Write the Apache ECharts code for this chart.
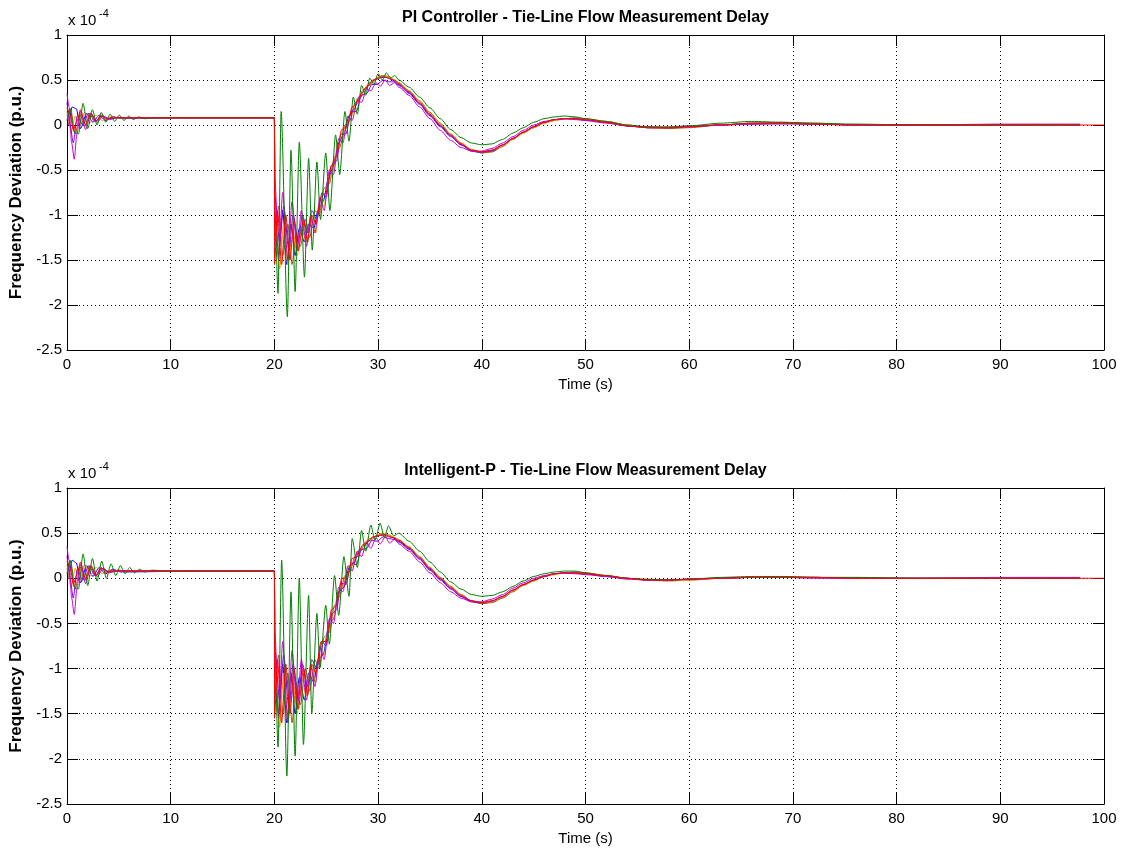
<!DOCTYPE html>
<html>
<head>
<meta charset="utf-8">
<title>Tie-Line Flow Measurement Delay</title>
<script src="https://cdn.jsdelivr.net/npm/echarts@6/dist/echarts.min.js"></script>
<style>
  html, body { margin: 0; padding: 0; background: #ffffff; }
  #chart { width: 1121px; height: 850px; }
</style>
</head>
<body>
<div id="chart"></div>
<script>
// Frequency deviation (units of 1e-4 p.u.) versus time (s), [t, value] pairs.
// ---- PI controller ----
const piBlue = [[0,0.0],[0.1,0.0],[0.5,0.2],[0.9,0.18],[1.3,-0.04],[1.9,0.13],[2.5,0.03],[3.1,0.11],[3.7,0.05],[4.4,0.09],[5.2,0.075],[13,0.08],[20,0.08],
  [20.05,-1.2],[20.4,-1.45],[20.8,-0.95],[21.2,-1.55],[21.6,-1.1],[22,-1.45],[22.4,-1.15],[22.9,-1.3],[23.3,-1.1],[23.8,-1.15],[24.2,-0.95],[24.7,-0.85],[25.2,-0.6],[25.7,-0.45],[26.2,-0.2],[26.7,-0.1],[27.2,0.1],[27.7,0.18],[28.2,0.32],[28.7,0.38],[29.2,0.47],[29.7,0.5],[30.3,0.53],[30.8,0.53],[31.4,0.5],
  [32,0.45],[33,0.36],[34,0.24],[35,0.11],[36,-0.01],[37,-0.12],[38,-0.22],[39,-0.29],[40,-0.31],[41,-0.29],[42,-0.23],[43,-0.15],[44,-0.08],[45,-0.02],[46,0.03],[47,0.06],[48,0.07],[49,0.07],[50,0.06],[52,0.03],[54,-0.01],[56,-0.03],[58,-0.03],[60,-0.02],[63,0.0],[66,0.02],[69,0.02],[72,0.01],[76,0.0],[82,0.0],[90,0.0],[97.7,0.0]];
const piBrown = [[0,0.1],[0.35,0.18],[0.8,-0.1],[1.25,0.12],[1.7,-0.02],[2.2,0.13],[2.8,0.04],[3.4,0.1],[4.1,0.07],[5,0.08],[20,0.08],
  [20.05,-1.3],[20.4,-0.9],[20.8,-1.45],[21.3,-1.1],[21.7,-1.55],[22.1,-1.2],[22.5,-1.35],[23,-1.05],[23.4,-1.25],[23.9,-0.95],[24.3,-1.0],[24.8,-0.7],[25.3,-0.65],[25.8,-0.35],[26.3,-0.25],[26.8,0.0],[27.3,0.05],[27.8,0.25],[28.3,0.3],[28.8,0.42],[29.3,0.45],[29.8,0.52],[30.4,0.55],[31,0.54],[31.6,0.5],
  [32,0.47],[33,0.38],[34,0.27],[35,0.14],[36,0.02],[37,-0.1],[38,-0.2],[39,-0.28],[40,-0.31],[41,-0.3],[42,-0.24],[43,-0.16],[44,-0.09],[45,-0.03],[46,0.02],[47,0.05],[48,0.07],[49,0.08],[50,0.07],[52,0.04],[54,0.0],[56,-0.03],[58,-0.04],[60,-0.03],[63,0.0],[66,0.02],[69,0.03],[72,0.02],[76,0.0],[82,0.0],[90,0.0],[97.7,0.0]];
const piOrange = [[0,0.15],[0.4,-0.08],[0.8,0.1],[1.2,-0.02],[1.7,0.14],[2.2,0.02],[2.8,0.11],[3.4,0.05],[4.1,0.09],[5,0.08],[20,0.08],
  [20.05,-1.0],[20.5,-1.6],[20.9,-1.1],[21.3,-1.55],[21.8,-1.2],[22.2,-1.45],[22.6,-1.15],[23.1,-1.3],[23.5,-1.05],[24,-1.2],[24.3,-0.9],[24.8,-0.9],[25.2,-0.6],[25.7,-0.5],[26.1,-0.2],[26.6,-0.15],[27.1,0.1],[27.6,0.13],[28,0.3],[28.5,0.35],[29,0.45],[29.5,0.47],[30,0.53],[30.6,0.55],[31.2,0.52],
  [32,0.47],[33,0.38],[34,0.26],[35,0.13],[36,0.01],[37,-0.1],[38,-0.2],[39,-0.27],[40,-0.3],[41,-0.28],[42,-0.23],[43,-0.16],[44,-0.09],[45,-0.03],[46,0.02],[47,0.05],[48,0.07],[49,0.07],[50,0.06],[52,0.04],[54,0.0],[56,-0.03],[58,-0.03],[60,-0.02],[63,0.0],[66,0.01],[69,0.02],[72,0.01],[76,0.0],[82,0.0],[90,0.0],[97.7,0.0]];
const piPurple = [[0,0.25],[0.3,0.0],[0.6,-0.2],[1.0,0.1],[1.5,0.0],[2.1,0.13],[2.7,0.04],[3.3,0.1],[4,0.07],[5,0.08],[20,0.08],
  [20.05,-0.8],[20.5,-1.3],[20.9,-0.9],[21.4,-1.4],[21.8,-1.0],[22.3,-1.3],[22.7,-1.0],[23.2,-1.2],[23.6,-0.95],[24.1,-1.05],[24.6,-0.75],[25,-0.8],[25.5,-0.45],[26,-0.4],[26.4,-0.1],[26.9,-0.1],[27.4,0.15],[27.9,0.15],[28.4,0.33],[28.9,0.35],[29.4,0.45],[29.9,0.45],[30.5,0.5],[31,0.48],[31.6,0.48],
  [32,0.44],[33,0.35],[34,0.23],[35,0.1],[36,-0.02],[37,-0.13],[38,-0.22],[39,-0.28],[40,-0.3],[41,-0.28],[42,-0.22],[43,-0.15],[44,-0.08],[45,-0.02],[46,0.03],[47,0.06],[48,0.07],[49,0.07],[50,0.05],[52,0.03],[54,-0.01],[56,-0.02],[58,-0.03],[60,-0.02],[63,0.0],[66,0.01],[69,0.02],[72,0.01],[76,0.0],[82,0.0],[90,0.0],[97.7,0.0]];
const piMagenta = [[0,0.35],[0.2,0.2],[0.45,-0.2],[0.7,-0.38],[0.95,-0.1],[1.3,0.15],[1.8,-0.05],[2.3,0.13],[2.9,0.03],[3.5,0.1],[4.1,0.06],[4.9,0.085],[6,0.08],[20,0.08],
  [20.05,-0.6],[20.4,-1.5],[20.8,-0.75],[21.3,-1.5],[21.7,-0.85],[22.2,-1.4],[22.6,-0.95],[23.1,-1.35],[23.5,-1.0],[23.9,-1.2],[24.4,-0.8],[24.8,-0.95],[25.3,-0.5],[25.7,-0.55],[26.2,-0.15],[26.6,-0.2],[27.1,0.1],[27.5,0.05],[28,0.28],[28.4,0.25],[28.9,0.4],[29.3,0.38],[29.8,0.47],[30.2,0.43],[30.7,0.5],[31.1,0.44],[31.6,0.47],
  [32,0.42],[33,0.33],[34,0.2],[35,0.07],[36,-0.06],[37,-0.17],[38,-0.25],[39,-0.29],[40,-0.29],[41,-0.26],[42,-0.2],[43,-0.13],[44,-0.06],[45,0.0],[46,0.04],[47,0.06],[48,0.07],[49,0.06],[50,0.05],[52,0.02],[54,-0.01],[56,-0.03],[58,-0.03],[60,-0.01],[63,0.0],[66,0.01],[69,0.01],[72,0.01],[76,0.0],[82,0.0],[90,0.01],[97.7,0.01]];
const piGreen = [[0,0.05],[0.3,0.18],[0.7,-0.08],[1.1,-0.1],[1.55,0.24],[2.0,-0.04],[2.45,0.17],[2.9,0.0],[3.3,0.14],[3.75,0.03],[4.15,0.12],[4.6,0.04],[5.05,0.11],[5.5,0.05],[5.95,0.1],[6.4,0.06],[6.9,0.09],[7.5,0.07],[8.5,0.08],[20,0.08],
  [20.03,-0.9],[20.35,-1.87],[20.65,0.15],[21.25,-2.13],[21.6,-0.28],[22.0,-1.85],[22.4,-0.19],[22.9,-1.69],[23.3,-0.37],[23.65,-1.39],[24.1,-0.41],[24.45,-1.05],[24.95,-0.31],[25.35,-0.95],[25.9,-0.11],[26.3,-0.55],[26.8,0.15],[27.2,-0.18],[27.6,0.31],[28.0,0.12],[28.4,0.44],[28.8,0.33],[29.2,0.52],[29.6,0.45],[30.0,0.57],[30.4,0.5],[30.8,0.58],[31.2,0.52],[31.6,0.55],
  [32,0.5],[33,0.42],[34,0.31],[35,0.19],[36,0.07],[37,-0.05],[38,-0.14],[39,-0.2],[40,-0.22],[41,-0.21],[42,-0.16],[43,-0.09],[44,-0.03],[45,0.03],[46,0.07],[47,0.09],[48,0.1],[49,0.09],[50,0.07],[52,0.04],[54,0.0],[56,-0.02],[58,-0.02],[60,-0.01],[63,0.02],[66,0.04],[69,0.03],[72,0.02],[76,0.01],[82,0.0],[90,0.0],[97.7,0.0]];
const piRed = [[0,0.19],[0.3,0.12],[0.6,-0.05],[1.0,0.05],[1.3,0.17],[1.8,0.0],[2.3,0.13],[2.8,0.04],[3.3,0.11],[3.8,0.06],[4.4,0.09],[5,0.08],[20,0.08],
  [20.01,-1.55],[20.3,-0.95],[20.7,-1.55],[21.1,-1.0],[21.5,-1.5],[21.9,-1.05],[22.3,-1.4],[22.8,-1.05],[23.2,-1.3],[23.6,-1.0],[24.0,-1.1],[24.5,-0.8],[25.0,-0.75],[25.5,-0.45],[26,-0.35],[26.5,-0.05],[27,-0.02],[27.5,0.2],[28,0.24],[28.5,0.38],[29,0.43],[29.5,0.5],[30,0.52],[30.5,0.54],[31,0.52],[31.5,0.5],
  [32,0.46],[33,0.37],[34,0.25],[35,0.12],[36,0.0],[37,-0.11],[38,-0.21],[39,-0.28],[40,-0.3],[41,-0.28],[42,-0.22],[43,-0.15],[44,-0.08],[45,-0.02],[46,0.03],[47,0.06],[48,0.07],[49,0.07],[50,0.06],[52,0.03],[54,-0.01],[56,-0.03],[58,-0.03],[60,-0.02],[63,0.0],[66,0.02],[69,0.02],[72,0.01],[76,0.0],[82,0.0],[90,0.0],[100,0.0]];

// ---- Intelligent-P controller ----
const ipBlue = [[0,0.0],[0.1,0.0],[0.5,0.2],[0.9,0.17],[1.3,-0.05],[1.9,0.14],[2.5,0.02],[3.1,0.12],[3.7,0.05],[4.4,0.1],[5.2,0.07],[13,0.08],[20,0.08],
  [20.05,-1.2],[20.4,-1.5],[20.8,-0.95],[21.2,-1.6],[21.6,-1.05],[22,-1.5],[22.4,-1.1],[22.9,-1.35],[23.3,-1.05],[23.8,-1.15],[24.2,-0.9],[24.7,-0.85],[25.2,-0.55],[25.7,-0.45],[26.2,-0.15],[26.7,-0.1],[27.2,0.12],[27.7,0.18],[28.2,0.32],[28.7,0.36],[29.2,0.44],[29.7,0.46],[30.3,0.48],[30.8,0.48],[31.4,0.45],
  [32,0.41],[33,0.33],[34,0.22],[35,0.1],[36,-0.01],[37,-0.11],[38,-0.2],[39,-0.26],[40,-0.28],[41,-0.26],[42,-0.21],[43,-0.14],[44,-0.07],[45,-0.02],[46,0.02],[47,0.05],[48,0.06],[49,0.06],[50,0.05],[52,0.02],[54,0.0],[56,-0.02],[58,-0.02],[60,-0.01],[63,0.0],[66,0.01],[69,0.01],[72,0.01],[76,0.0],[82,0.0],[90,0.0],[97.7,0.0]];
const ipBrown = [[0,0.1],[0.35,0.19],[0.8,-0.12],[1.25,0.13],[1.7,-0.03],[2.2,0.14],[2.8,0.03],[3.4,0.11],[4.1,0.07],[5,0.08],[20,0.08],
  [20.05,-1.3],[20.4,-0.85],[20.8,-1.5],[21.3,-1.05],[21.7,-1.6],[22.1,-1.15],[22.5,-1.4],[23,-1.0],[23.4,-1.25],[23.9,-0.9],[24.3,-1.0],[24.8,-0.65],[25.3,-0.6],[25.8,-0.3],[26.3,-0.2],[26.8,0.03],[27.3,0.08],[27.8,0.25],[28.3,0.3],[28.8,0.4],[29.3,0.42],[29.8,0.47],[30.4,0.49],[31,0.48],[31.6,0.45],
  [32,0.42],[33,0.34],[34,0.24],[35,0.12],[36,0.01],[37,-0.09],[38,-0.18],[39,-0.25],[40,-0.28],[41,-0.27],[42,-0.22],[43,-0.15],[44,-0.08],[45,-0.03],[46,0.02],[47,0.05],[48,0.06],[49,0.07],[50,0.06],[52,0.03],[54,0.0],[56,-0.02],[58,-0.03],[60,-0.02],[63,0.0],[66,0.01],[69,0.02],[72,0.01],[76,0.0],[82,0.0],[90,0.0],[97.7,0.0]];
const ipOrange = [[0,0.15],[0.4,-0.1],[0.8,0.11],[1.2,-0.03],[1.7,0.15],[2.2,0.02],[2.8,0.12],[3.4,0.05],[4.1,0.09],[5,0.08],[20,0.08],
  [20.05,-1.0],[20.5,-1.65],[20.9,-1.05],[21.3,-1.6],[21.8,-1.15],[22.2,-1.5],[22.6,-1.1],[23.1,-1.3],[23.5,-1.0],[24,-1.15],[24.3,-0.85],[24.8,-0.85],[25.2,-0.55],[25.7,-0.45],[26.1,-0.15],[26.6,-0.1],[27.1,0.12],[27.6,0.14],[28,0.3],[28.5,0.34],[29,0.43],[29.5,0.45],[30,0.49],[30.6,0.5],[31.2,0.47],
  [32,0.43],[33,0.35],[34,0.24],[35,0.12],[36,0.01],[37,-0.09],[38,-0.18],[39,-0.25],[40,-0.27],[41,-0.26],[42,-0.21],[43,-0.14],[44,-0.08],[45,-0.03],[46,0.02],[47,0.04],[48,0.06],[49,0.06],[50,0.05],[52,0.03],[54,0.0],[56,-0.02],[58,-0.02],[60,-0.02],[63,0.0],[66,0.01],[69,0.01],[72,0.01],[76,0.0],[82,0.0],[90,0.0],[97.7,0.0]];
const ipPurple = [[0,0.25],[0.3,0.0],[0.6,-0.22],[1.0,0.1],[1.5,-0.02],[2.1,0.14],[2.7,0.03],[3.3,0.11],[4,0.07],[5,0.08],[20,0.08],
  [20.05,-0.8],[20.5,-1.35],[20.9,-0.85],[21.4,-1.45],[21.8,-0.95],[22.3,-1.35],[22.7,-0.95],[23.2,-1.2],[23.6,-0.9],[24.1,-1.0],[24.6,-0.7],[25,-0.75],[25.5,-0.4],[26,-0.35],[26.4,-0.05],[26.9,-0.07],[27.4,0.17],[27.9,0.15],[28.4,0.32],[28.9,0.33],[29.4,0.42],[29.9,0.41],[30.5,0.46],[31,0.44],[31.6,0.43],
  [32,0.4],[33,0.32],[34,0.21],[35,0.09],[36,-0.02],[37,-0.12],[38,-0.2],[39,-0.25],[40,-0.27],[41,-0.25],[42,-0.2],[43,-0.13],[44,-0.07],[45,-0.02],[46,0.02],[47,0.05],[48,0.06],[49,0.06],[50,0.05],[52,0.02],[54,0.0],[56,-0.02],[58,-0.02],[60,-0.01],[63,0.0],[66,0.01],[69,0.01],[72,0.01],[76,0.0],[82,0.0],[90,0.0],[97.7,0.0]];
const ipMagenta = [[0,0.35],[0.2,0.2],[0.45,-0.22],[0.7,-0.4],[0.95,-0.12],[1.3,0.16],[1.8,-0.06],[2.3,0.14],[2.9,0.02],[3.5,0.11],[4.1,0.06],[4.9,0.09],[6,0.08],[20,0.08],
  [20.05,-0.6],[20.4,-1.55],[20.8,-0.7],[21.3,-1.6],[21.7,-0.8],[22.2,-1.45],[22.6,-0.9],[23.1,-1.35],[23.5,-0.95],[23.9,-1.2],[24.4,-0.75],[24.8,-0.9],[25.3,-0.45],[25.7,-0.5],[26.2,-0.1],[26.6,-0.15],[27.1,0.14],[27.5,0.08],[28,0.3],[28.4,0.24],[28.9,0.4],[29.3,0.33],[29.8,0.45],[30.2,0.38],[30.7,0.46],[31.1,0.39],[31.6,0.43],
  [32,0.38],[33,0.3],[34,0.18],[35,0.06],[36,-0.05],[37,-0.15],[38,-0.22],[39,-0.26],[40,-0.26],[41,-0.23],[42,-0.18],[43,-0.11],[44,-0.05],[45,0.0],[46,0.03],[47,0.05],[48,0.06],[49,0.05],[50,0.04],[52,0.02],[54,-0.01],[56,-0.02],[58,-0.02],[60,-0.01],[63,0.0],[66,0.01],[69,0.01],[72,0.0],[76,0.0],[82,0.0],[90,0.01],[97.7,0.01]];
const ipGreen = [[0,0.05],[0.3,0.2],[0.7,-0.1],[1.1,-0.12],[1.55,0.27],[2.0,-0.08],[2.45,0.22],[2.9,-0.03],[3.35,0.19],[3.8,0.0],[4.25,0.16],[4.7,0.03],[5.15,0.14],[5.6,0.05],[6.05,0.12],[6.5,0.06],[7.0,0.1],[7.5,0.07],[8.2,0.09],[9.5,0.08],[20,0.08],
  [20.03,-0.8],[20.35,-1.87],[20.7,0.2],[21.2,-2.19],[21.6,-0.15],[22.0,-1.97],[22.4,0.0],[22.8,-1.84],[23.3,-0.19],[23.6,-1.5],[24.1,-0.39],[24.4,-0.99],[24.95,-0.3],[25.3,-0.73],[25.8,0.03],[26.2,-0.41],[26.7,0.24],[27.2,-0.2],[27.5,0.44],[28.0,0.12],[28.4,0.53],[28.8,0.3],[29.3,0.59],[29.7,0.42],[30.2,0.61],[30.6,0.45],[31.0,0.58],[31.5,0.47],
  [32,0.5],[33,0.41],[34,0.3],[35,0.18],[36,0.07],[37,-0.04],[38,-0.12],[39,-0.18],[40,-0.2],[41,-0.19],[42,-0.15],[43,-0.09],[44,-0.03],[45,0.02],[46,0.05],[47,0.07],[48,0.08],[49,0.08],[50,0.06],[52,0.03],[54,0.0],[56,-0.01],[58,-0.02],[60,-0.01],[63,0.01],[66,0.02],[69,0.02],[72,0.01],[76,0.01],[82,0.0],[90,0.0],[97.7,0.0]];
const ipRed = [[0,0.19],[0.3,0.12],[0.6,-0.06],[1.0,0.05],[1.3,0.18],[1.8,-0.01],[2.3,0.14],[2.8,0.03],[3.3,0.12],[3.8,0.06],[4.4,0.09],[5,0.08],[20,0.08],
  [20.01,-1.55],[20.3,-0.9],[20.7,-1.6],[21.1,-0.95],[21.5,-1.5],[21.9,-1.0],[22.3,-1.45],[22.8,-1.0],[23.2,-1.3],[23.6,-0.95],[24,-1.05],[24.5,-0.7],[25,-0.7],[25.5,-0.35],[26,-0.3],[26.5,0.0],[27,0.0],[27.5,0.22],[28,0.24],[28.5,0.37],[29,0.4],[29.5,0.46],[30,0.47],[30.5,0.48],[31,0.46],[31.5,0.45],
  [32,0.42],[33,0.34],[34,0.23],[35,0.11],[36,0.0],[37,-0.1],[38,-0.19],[39,-0.25],[40,-0.27],[41,-0.25],[42,-0.2],[43,-0.13],[44,-0.07],[45,-0.02],[46,0.02],[47,0.05],[48,0.06],[49,0.06],[50,0.05],[52,0.03],[54,0.0],[56,-0.02],[58,-0.02],[60,-0.01],[63,0.0],[66,0.01],[69,0.01],[72,0.01],[76,0.0],[82,0.0],[90,0.0],[100,0.0]];

// Axis ticks
const timeTicks = [0, 10, 20, 30, 40, 50, 60, 70, 80, 90, 100];
const devTicks = [-2.5, -2, -1.5, -1, -0.5, 0, 0.5, 1];

const panelTitles = ['PI Controller - Tie-Line Flow Measurement Delay', 'Intelligent-P - Tie-Line Flow Measurement Delay'];

const lineColors = {
  blue: '#0000ff', brown: '#a05a00', orange: '#ff9900', purple: '#8000ff',
  magenta: '#cc00cc', green: '#008000', red: '#ff0000'
};

const FONT = 'Liberation Sans, Arial, Helvetica, sans-serif';

const grids = [
  { left: 67, top: 35, width: 1037, height: 315 },
  { left: 67, top: 488, width: 1037, height: 316 }
];

const tickStyle = { show: true, inside: true, length: 11, lineStyle: { color: '#000', width: 1 } };
const frameLine = { show: true, onZero: false, lineStyle: { color: '#000', width: 1 } };
const dotted = { show: true, lineStyle: { color: '#000', type: [1, 3], width: 1 } };

function bottomAxis(gi) {
  return {
    type: 'value', gridIndex: gi, min: timeTicks[0], max: timeTicks[timeTicks.length - 1], interval: 10,
    position: 'bottom',
    name: 'Time (s)', nameLocation: 'middle', nameGap: 27,
    nameTextStyle: { fontFamily: FONT, fontSize: 15, color: '#000' },
    axisLine: frameLine, axisTick: tickStyle,
    axisLabel: { show: true, fontFamily: FONT, fontSize: 15, color: '#000', margin: 7 },
    splitLine: dotted
  };
}
function topAxis(gi) {
  return {
    type: 'value', gridIndex: gi, min: timeTicks[0], max: timeTicks[timeTicks.length - 1], interval: 10,
    position: 'top', axisLine: frameLine, axisTick: tickStyle,
    axisLabel: { show: false }, splitLine: { show: false }
  };
}
function leftAxis(gi) {
  return {
    type: 'value', gridIndex: gi, min: devTicks[0], max: devTicks[devTicks.length - 1], interval: 0.5,
    position: 'left',
    name: 'Frequency Deviation (p.u.)', nameLocation: 'middle', nameGap: 40,
    nameTextStyle: { fontFamily: FONT, fontSize: 17, fontWeight: 'bold', color: '#000' },
    axisLine: frameLine, axisTick: tickStyle,
    axisLabel: { show: true, fontFamily: FONT, fontSize: 15, color: '#000', margin: 5,
      formatter: v => String(v) },
    splitLine: dotted
  };
}
function rightAxis(gi) {
  return {
    type: 'value', gridIndex: gi, min: devTicks[0], max: devTicks[devTicks.length - 1], interval: 0.5,
    position: 'right', axisLine: frameLine, axisTick: tickStyle,
    axisLabel: { show: false }, splitLine: { show: false }
  };
}

function line(name, data, color, gi) {
  return {
    name, type: 'line', data, xAxisIndex: gi * 2, yAxisIndex: gi * 2,
    showSymbol: false, symbol: 'none', smooth: 0.25, smoothMonotone: 'x',
    lineStyle: { color, width: 1 }, animation: false, silent: true, z: 1
  };
}

const panels = [
  [['blue', piBlue], ['brown', piBrown], ['orange', piOrange], ['purple', piPurple], ['magenta', piMagenta], ['green', piGreen], ['red', piRed]],
  [['blue', ipBlue], ['brown', ipBrown], ['orange', ipOrange], ['purple', ipPurple], ['magenta', ipMagenta], ['green', ipGreen], ['red', ipRed]]
];

const series = [];
panels.forEach((p, gi) => p.forEach(([c, d]) => series.push(line(c + gi, d, lineColors[c], gi))));

const graphics = [];
grids.forEach((g, gi) => {
  graphics.push({
    type: 'text', x: g.left + g.width / 2, y: g.top - 17,
    style: { text: panelTitles[gi], font: 'bold 16px ' + FONT, fill: '#000',
      align: 'center', verticalAlign: 'middle', textAlign: 'center', textVerticalAlign: 'middle' }
  });
  graphics.push({
    type: 'text', x: g.left + 1, y: g.top - 14,
    style: { text: 'x 10', font: '15px ' + FONT, fill: '#000', verticalAlign: 'middle', textVerticalAlign: 'middle' }
  });
  graphics.push({
    type: 'text', x: g.left + 32, y: g.top - 21,
    style: { text: '-4', font: '11px ' + FONT, fill: '#000', verticalAlign: 'middle', textVerticalAlign: 'middle' }
  });
});

const chart = echarts.init(document.getElementById('chart'), null, { renderer: 'canvas' });
chart.setOption({
  backgroundColor: '#ffffff',
  animation: false,
  grid: grids.map(g => Object.assign({ containLabel: false }, g)),
  xAxis: [bottomAxis(0), topAxis(0), bottomAxis(1), topAxis(1)],
  yAxis: [leftAxis(0), rightAxis(0), leftAxis(1), rightAxis(1)],
  graphic: graphics,
  series
});
</script>
</body>
</html>
